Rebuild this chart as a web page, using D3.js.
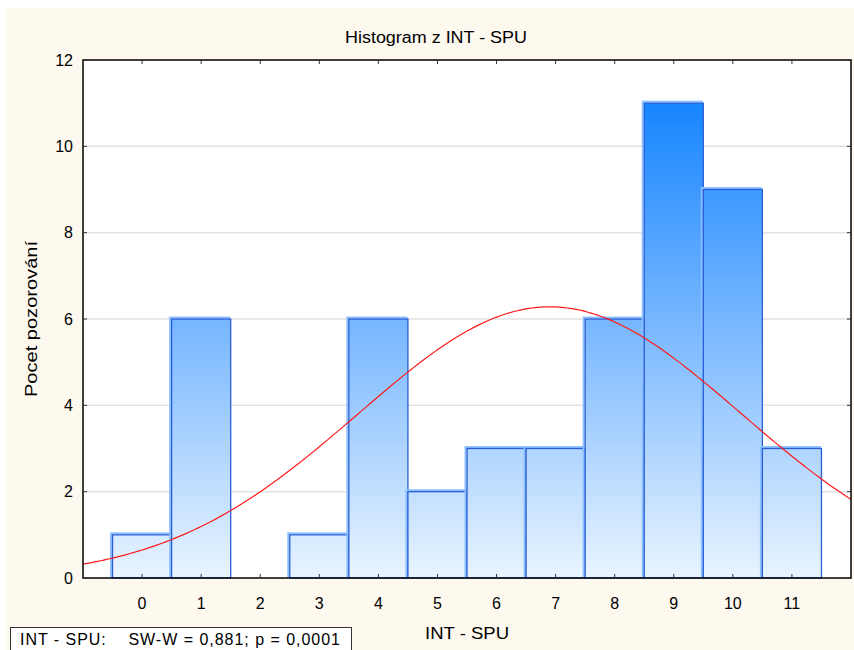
<!DOCTYPE html>
<html>
<head>
<meta charset="utf-8">
<script src="https://cdn.jsdelivr.net/npm/d3@7"></script>
<style>
body { margin: 0; background: #fff; }
text { font-family: "Liberation Sans", Arial, sans-serif; fill: #000; }
</style>
</head>
<body>
<div class="main"></div>
<script>
// histogram data: bins of INT - SPU and their counts
var bins = [0, 1, 2, 3, 4, 5, 6, 7, 8, 9, 10, 11];
var counts = [1, 6, 0, 1, 6, 2, 3, 3, 6, 11, 9, 3];
var yTicks = [0, 2, 4, 6, 8, 10, 12];
var title = "Histogram z INT - SPU";
var xLabel = "INT - SPU";
var yLabel = "Pocet pozorování";
var testText = "INT - SPU:    SW-W = 0,881; p = 0,0001";

var W = 854, H = 650;
var plot = {left: 83, top: 60, right: 851, bottom: 578};

var svg = d3.select(".main").append("svg")
  .attr("width", W).attr("height", H);

// cream background of the graph window
svg.append("rect").attr("x", 6).attr("y", 8)
  .attr("width", W - 6).attr("height", H - 8)
  .attr("fill", "#fdf9ef");
svg.append("rect").attr("x", plot.left).attr("y", plot.top)
  .attr("width", plot.right - plot.left).attr("height", plot.bottom - plot.top)
  .attr("fill", "#fff");

var x = d3.scaleLinear().domain([-1, 12]).range([plot.left, plot.right]);
var y = d3.scaleLinear().domain([0, 12]).range([plot.bottom, plot.top]);

var defs = svg.append("defs");
var grad = defs.append("linearGradient").attr("id", "barGrad")
  .attr("gradientUnits", "userSpaceOnUse")
  .attr("x1", 0).attr("x2", 0)
  .attr("y1", y(11)).attr("y2", y(0));
grad.append("stop").attr("offset", "0%").attr("stop-color", "#1786ff");
grad.append("stop").attr("offset", "45%").attr("stop-color", "#74b5ff");
grad.append("stop").attr("offset", "100%").attr("stop-color", "#e9f4ff");

defs.append("clipPath").attr("id", "clip").append("rect")
  .attr("x", plot.left).attr("y", plot.top)
  .attr("width", plot.right - plot.left).attr("height", plot.bottom - plot.top);

// gridlines
svg.append("g").selectAll("line")
  .data(yTicks.slice(1, -1))
  .enter().append("line")
  .attr("x1", plot.left).attr("x2", plot.right)
  .attr("y1", function(d) { return y(d); })
  .attr("y2", function(d) { return y(d); })
  .attr("stroke", "#e2e2e2").attr("stroke-width", 1.5);

// bars
var data = d3.zip(bins, counts);
var bar = svg.append("g").selectAll("g")
  .data(data)
  .enter().append("g");

bar.append("rect")
  .attr("x", function(d) { return x(d[0] - 0.5) - 1.5; })
  .attr("y", function(d) { return y(d[1]) - 1.5; })
  .attr("width", function(d) { return x(d[0] + 0.5) - x(d[0] - 0.5); })
  .attr("height", function(d) { return y(0) - y(d[1]); })
  .attr("fill", "none")
  .attr("stroke", "#8dc1ff").attr("stroke-width", 2);

bar.append("rect")
  .attr("x", function(d) { return x(d[0] - 0.5); })
  .attr("y", function(d) { return y(d[1]); })
  .attr("width", function(d) { return x(d[0] + 0.5) - x(d[0] - 0.5); })
  .attr("height", function(d) { return y(0) - y(d[1]); })
  .attr("fill", "url(#barGrad)")
  .attr("stroke", "#2a5fd6").attr("stroke-width", 1.3);

// fitted normal curve
var n = d3.sum(counts);
var mean = d3.sum(data, function(d) { return d[0] * d[1]; }) / n;
var sd = Math.sqrt(d3.sum(data, function(d) { return d[1] * Math.pow(d[0] - mean, 2); }) / (n - 1));
var xs = d3.range(-1, 12.01, 0.05);
var line = d3.line()
  .x(function(v) { return x(v); })
  .y(function(v) {
    return y(n / (sd * Math.sqrt(2 * Math.PI)) * Math.exp(-0.5 * Math.pow((v - mean) / sd, 2)));
  });
svg.append("path")
  .attr("d", line(xs))
  .attr("clip-path", "url(#clip)")
  .attr("fill", "none").attr("stroke", "#ff1a1a").attr("stroke-width", 1.2);

// frame and inner ticks
var frame = svg.append("g");
frame.append("rect").attr("x", plot.left).attr("y", plot.top)
  .attr("width", plot.right - plot.left).attr("height", plot.bottom - plot.top)
  .attr("fill", "none").attr("stroke", "#000").attr("stroke-width", 1.5);
frame.selectAll(".xt").data(bins).enter().append("line")
  .attr("x1", function(d) { return x(d); }).attr("x2", function(d) { return x(d); })
  .attr("y1", plot.bottom).attr("y2", plot.bottom - 4)
  .attr("stroke", "#333");
frame.selectAll(".xt2").data(bins).enter().append("line")
  .attr("x1", function(d) { return x(d); }).attr("x2", function(d) { return x(d); })
  .attr("y1", plot.top).attr("y2", plot.top + 4)
  .attr("stroke", "#333");
frame.selectAll(".yt").data(yTicks).enter().append("line")
  .attr("x1", plot.left).attr("x2", plot.left + 4)
  .attr("y1", function(d) { return y(d); }).attr("y2", function(d) { return y(d); })
  .attr("stroke", "#333");
frame.selectAll(".yt2").data(yTicks).enter().append("line")
  .attr("x1", plot.right).attr("x2", plot.right - 4)
  .attr("y1", function(d) { return y(d); }).attr("y2", function(d) { return y(d); })
  .attr("stroke", "#333");

// tick labels
svg.append("g").selectAll("text").data(yTicks).enter().append("text")
  .attr("x", plot.left - 10)
  .attr("y", function(d) { return y(d); })
  .attr("dy", "0.35em")
  .attr("text-anchor", "end")
  .style("font-size", "16px")
  .text(function(d) { return d; });

svg.append("g").selectAll("text").data(bins).enter().append("text")
  .attr("x", function(d) { return x(d); })
  .attr("y", 603)
  .attr("dy", "0.35em")
  .attr("text-anchor", "middle")
  .style("font-size", "16px")
  .text(function(d) { return d; });

// titles
svg.append("text").attr("x", 436).attr("y", 43)
  .attr("text-anchor", "middle").style("font-size", "16px")
  .attr("textLength", 182).attr("lengthAdjust", "spacingAndGlyphs")
  .text(title);
svg.append("text").attr("x", (plot.left + plot.right) / 2).attr("y", 633)
  .attr("dy", "0.35em")
  .attr("text-anchor", "middle").style("font-size", "17px")
  .attr("textLength", 84).attr("lengthAdjust", "spacingAndGlyphs")
  .text(xLabel);
svg.append("text")
  .attr("transform", "translate(37," + ((plot.top + plot.bottom) / 2) + ") rotate(-90)")
  .attr("text-anchor", "middle").style("font-size", "17px")
  .attr("textLength", 156).attr("lengthAdjust", "spacingAndGlyphs")
  .text(yLabel);

// test result box
svg.append("rect").attr("x", 10.5).attr("y", 627.5)
  .attr("width", 341).attr("height", 30)
  .attr("fill", "#fff").attr("stroke", "#333").attr("stroke-width", 1);
svg.append("text").attr("x", 20).attr("y", 639)
  .attr("dy", "0.35em")
  .style("font-size", "16px").style("white-space", "pre")
  .attr("xml:space", "preserve")
  .attr("textLength", 320).attr("lengthAdjust", "spacing")
  .text(testText);
</script>
</body>
</html>
